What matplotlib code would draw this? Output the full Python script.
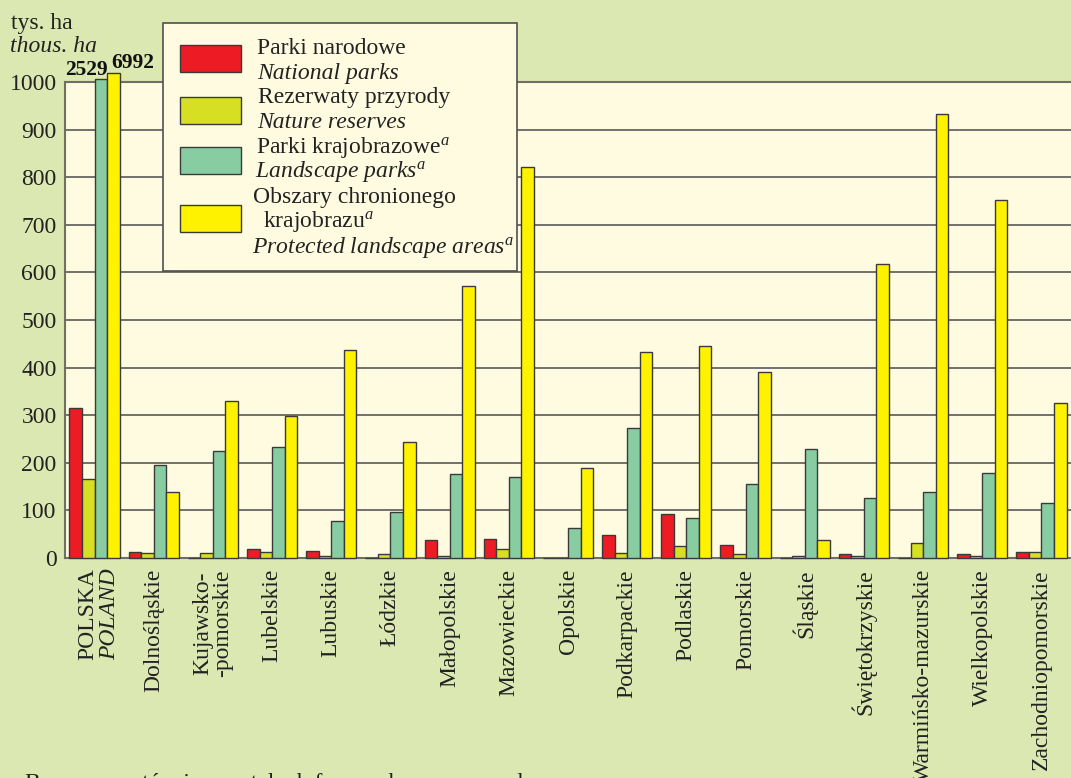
import matplotlib
matplotlib.use("Agg")
import matplotlib.pyplot as plt
from matplotlib.patches import Rectangle
import numpy as np

plt.rcParams['font.family'] = ['Liberation Serif', 'DejaVu Serif']
plt.rcParams['mathtext.fontset'] = 'custom'
plt.rcParams['mathtext.rm'] = 'Liberation Serif'
plt.rcParams['mathtext.it'] = 'Liberation Serif:italic'

# ---------------- data ----------------
regions = ["POLSKA", "Dolnośląskie", "Kujawsko-\n-pomorskie", "Lubelskie", "Lubuskie",
           "Łódzkie", "Małopolskie", "Mazowieckie", "Opolskie", "Podkarpackie",
           "Podlaskie", "Pomorskie", "Śląskie", "Świętokrzyskie",
           "Warmińsko-mazurskie", "Wielkopolskie", "Zachodniopomorskie"]
national_parks = [315, 12, 0, 18, 14, 0, 38, 39, 1, 48, 92, 27, 0, 8, 0, 8, 13]
nature_reserves = [165, 10, 10, 12, 4, 8, 4, 18, 1, 11, 25, 9, 5, 5, 31, 5, 12]
landscape_parks = [2529, 196, 225, 233, 77, 96, 177, 170, 62, 274, 84, 155, 228, 127, 139, 179, 116]
protected_areas = [6992, 138, 330, 299, 436, 244, 571, 822, 190, 433, 445, 391, 37, 618, 933, 752, 325]

series_pl = ["Parki narodowe", "Rezerwaty przyrody", "Parki krajobrazowe$^{a}$",
             "Obszary chronionego", "krajobrazu$^{a}$"]
series_en = ["National parks", "Nature reserves", "Landscape parks$^{a}$",
             "Protected landscape areas$^{a}$"]
colors = ["#ed1c24", "#d7df23", "#88cca2", "#fff200"]

yticks = [0, 100, 200, 300, 400, 500, 600, 700, 800, 900, 1000]

FS = 17
TXT = "#222222"

# ---------------- figure ----------------
W, H = 1071, 778
fig = plt.figure(figsize=(W / 100, H / 100), dpi=100)
fig.patch.set_facecolor("#dce8b1")

def fx(px):
    return px / W

def fy(py):
    return 1 - py / H

ax = fig.add_axes([65 / W, (H - 558) / H, (W - 65) / W, (558 - 82) / H])
ax.set_facecolor("#fefbe1")

x = np.arange(len(regions))
bw = 0.212
all_series = [national_parks, nature_reserves, landscape_parks, protected_areas]
# bars exceeding the axis are drawn broken just above the top
caps = [1000, 1000, 1006, 1019]
for i, (vals, col, cap) in enumerate(zip(all_series, colors, caps)):
    v = np.asarray(vals, dtype=float)
    shown = np.where(v > 1000, cap, v)
    ax.bar(x + (i - 1.5) * bw, shown, width=bw, color=col, edgecolor="#3a3a3a",
           linewidth=1.0, zorder=3, clip_on=False)

ax.set_xlim(-0.5, len(regions) - 0.5)
ax.set_ylim(0, 1000)
ax.set_yticks(yticks)
ax.set_yticklabels([str(t) for t in yticks], fontsize=FS, color=TXT)
ax.yaxis.grid(True, color="#4a4a4a", linewidth=1.1, zorder=1)
ax.tick_params(axis="y", length=0, pad=6)
ax.tick_params(axis="x", length=0, pad=8)

ax.spines["right"].set_visible(False)
for s in ["top", "bottom", "left"]:
    ax.spines[s].set_color("#707060")
    ax.spines[s].set_linewidth(1.5)

ax.set_xticks(x)
ax.set_xticklabels([""] + regions[1:], rotation=90, fontsize=FS, va="top",
                   ha="center", color=TXT, linespacing=0.9)

# POLSKA / POLAND two-line label
tr = ax.get_xaxis_transform()
ax.text(-0.12, -0.022, regions[0], transform=tr, rotation=90, va="top", ha="center",
        fontsize=FS, color=TXT)
ax.text(0.25, -0.022, "POLAND", transform=tr, rotation=90, va="top", ha="center",
        fontsize=FS, color=TXT, style="italic")

# value labels for broken bars
fig.text(fx(86), fy(70), f"{landscape_parks[0]}", ha="center", va="center",
         fontsize=15.5, fontweight="bold", color="#111111")
fig.text(fx(133), fy(63), f"{protected_areas[0]}", ha="center", va="center",
         fontsize=15.5, fontweight="bold", color="#111111")

# unit labels
fig.text(fx(11), fy(23), "tys. ha", fontsize=FS, va="center", ha="left", color=TXT)
fig.text(fx(10), fy(47), "thous. ha", fontsize=FS, va="center", ha="left",
         style="italic", color=TXT)

# legend (manual)
lx0, ly0, lx1, ly1 = 163, 23, 517, 271
fig.patches.append(Rectangle((fx(lx0), fy(ly1)), (lx1 - lx0) / W, (ly1 - ly0) / H,
                             transform=fig.transFigure, facecolor="#fefbe1",
                             edgecolor="#505050", linewidth=1.2, zorder=5))
patch_cy = [58, 110, 160, 218]
for i in range(4):
    fig.patches.append(Rectangle((fx(180), fy(patch_cy[i] + 13.5)), 61 / W, 27 / H,
                                 transform=fig.transFigure, facecolor=colors[i],
                                 edgecolor="#3a3a3a", linewidth=1.0, zorder=6))
pl_pos = [(257, 48), (258, 98), (256, 147), (253, 198), (263, 222)]
en_pos = [(257, 73), (257, 122), (255, 172), (252, 247)]
for (px, py), s in zip(pl_pos, series_pl):
    fig.text(fx(px), fy(py), s, fontsize=FS, va="center", ha="left", color=TXT, zorder=7)
for (px, py), s in zip(en_pos, series_en):
    fig.text(fx(px), fy(py), s, fontsize=FS, va="center", ha="left", color=TXT,
             style="italic", zorder=7)

# footnote (mostly cut off at the bottom edge, as in the source)
fig.text(fx(25), fy(773), "Bez rezerwatów i pozostałych form ochrony przyrody",
         fontsize=FS, va="top", ha="left", color=TXT)

fig.savefig("out.png", dpi=100, facecolor=fig.get_facecolor())
